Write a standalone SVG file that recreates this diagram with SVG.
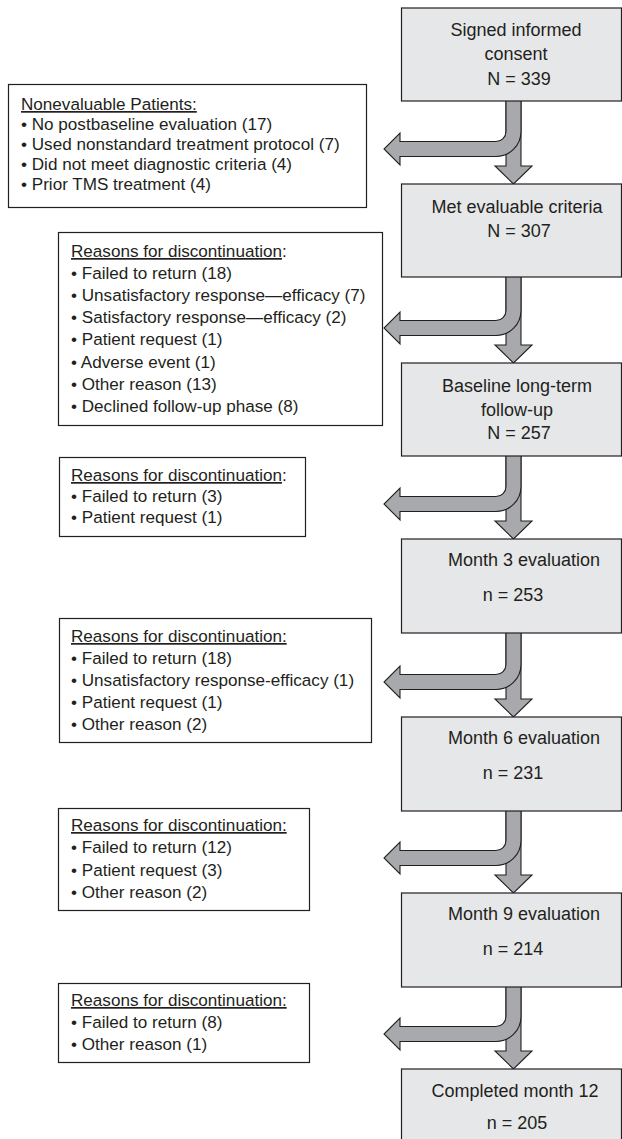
<svg xmlns="http://www.w3.org/2000/svg" xmlns:xlink="http://www.w3.org/1999/xlink" width="622" height="1139" viewBox="0 0 622 1139">
<style>
.node rect{fill:#e6e7e8;stroke:#231f20;stroke-width:1.2}
.note rect{fill:#ffffff;stroke:#231f20;stroke-width:1.2}
.arr{fill:#a7a9ac;stroke:#231f20;stroke-width:1.1;stroke-linejoin:miter}
text{font-family:"Liberation Sans",Arial,sans-serif;fill:#231f20}
.main{font-size:18px;text-anchor:middle}
.small{font-size:17.1px}
.u{text-decoration:underline}
</style>
<defs>
<g id="flow">
<path class="arr" d="M506,-55 L521,-55 L521,17 L532,17 L513.5,35 L495,17 L506,17 Z"/>
<path class="arr" d="M506,-55 L521,-55 L521,-17.5 A25,25 0 0 1 496,7.5 L400,7.5 L400,16 L384,0 L400,-16 L400,-7.5 L496,-7.5 A10,10 0 0 0 506,-17.5 Z"/>
</g>
</defs>
<g id="connectors">
<use xlink:href="#flow" transform="translate(0,149)"/>
<use xlink:href="#flow" transform="translate(0,328)"/>
<use xlink:href="#flow" transform="translate(0,504)"/>
<use xlink:href="#flow" transform="translate(0,682)"/>
<use xlink:href="#flow" transform="translate(0,858)"/>
<use xlink:href="#flow" transform="translate(0,1034)"/>
</g>
<g id="n1" class="node"><rect x="401.5" y="8" width="220" height="93"/>
<text class="main" x="516" y="36">Signed informed</text><text class="main" x="516" y="60">consent</text><text class="main" x="519" y="85">N = 339</text></g>
<g id="n2" class="node"><rect x="401.5" y="184" width="220" height="93"/>
<text class="main" x="517" y="213">Met evaluable criteria</text><text class="main" x="519" y="237">N = 307</text></g>
<g id="n3" class="node"><rect x="401.5" y="363" width="220" height="93"/>
<text class="main" x="517" y="392">Baseline long-term</text><text class="main" x="517" y="416">follow-up</text><text class="main" x="519" y="439">N = 257</text></g>
<g id="n4" class="node"><rect x="401.5" y="539" width="220" height="94"/>
<text class="main" x="524" y="566">Month 3 evaluation</text><text class="main" x="513" y="601">n = 253</text></g>
<g id="n5" class="node"><rect x="401.5" y="717" width="220" height="94"/>
<text class="main" x="524" y="744">Month 6 evaluation</text><text class="main" x="513" y="779">n = 231</text></g>
<g id="n6" class="node"><rect x="401.5" y="893" width="220" height="94"/>
<text class="main" x="524" y="920">Month 9 evaluation</text><text class="main" x="513" y="955">n = 214</text></g>
<g id="n7" class="node"><rect x="401.5" y="1069" width="220" height="90"/>
<text class="main" x="515" y="1097">Completed month 12</text><text class="main" x="517" y="1129">n = 205</text></g>
<g id="x1" class="note"><rect x="8.5" y="84.5" width="358" height="123"/>
<text class="small" x="21" y="110"><tspan class="u">Nonevaluable Patients:</tspan></text>
<text class="small" x="21" y="130">• No postbaseline evaluation (17)</text>
<text class="small" x="21" y="150">• Used nonstandard treatment protocol (7)</text>
<text class="small" x="21" y="170">• Did not meet diagnostic criteria (4)</text>
<text class="small" x="21" y="190">• Prior TMS treatment (4)</text></g>
<g id="x2" class="note"><rect x="58.5" y="232.5" width="324" height="193"/>
<text class="small" x="71" y="257"><tspan class="u">Reasons for discontinuation</tspan>:</text>
<text class="small" x="71" y="279">• Failed to return (18)</text>
<text class="small" x="71" y="301">• Unsatisfactory response—efficacy (7)</text>
<text class="small" x="71" y="323">• Satisfactory response—efficacy (2)</text>
<text class="small" x="71" y="345">• Patient request (1)</text>
<text class="small" x="71" y="368">• Adverse event (1)</text>
<text class="small" x="71" y="390">• Other reason (13)</text>
<text class="small" x="71" y="412">• Declined follow-up phase (8)</text></g>
<g id="x3" class="note"><rect x="59.5" y="457.5" width="246" height="79"/>
<text class="small" x="71" y="481"><tspan class="u">Reasons for discontinuation</tspan>:</text>
<text class="small" x="71" y="502">• Failed to return (3)</text>
<text class="small" x="71" y="523">• Patient request (1)</text></g>
<g id="x4" class="note"><rect x="59.5" y="618.5" width="312" height="124"/>
<text class="small" x="71" y="642"><tspan class="u">Reasons for discontinuation:</tspan></text>
<text class="small" x="71" y="664">• Failed to return (18)</text>
<text class="small" x="71" y="686">• Unsatisfactory response-efficacy (1)</text>
<text class="small" x="71" y="708">• Patient request (1)</text>
<text class="small" x="71" y="730">• Other reason (2)</text></g>
<g id="x5" class="note"><rect x="58.5" y="808.5" width="251" height="102"/>
<text class="small" x="71" y="831"><tspan class="u">Reasons for discontinuation:</tspan></text>
<text class="small" x="71" y="853">• Failed to return (12)</text>
<text class="small" x="71" y="876">• Patient request (3)</text>
<text class="small" x="71" y="898">• Other reason (2)</text></g>
<g id="x6" class="note"><rect x="58.5" y="983.5" width="251" height="79"/>
<text class="small" x="71" y="1006"><tspan class="u">Reasons for discontinuation:</tspan></text>
<text class="small" x="71" y="1028">• Failed to return (8)</text>
<text class="small" x="71" y="1050">• Other reason (1)</text></g>
</svg>
